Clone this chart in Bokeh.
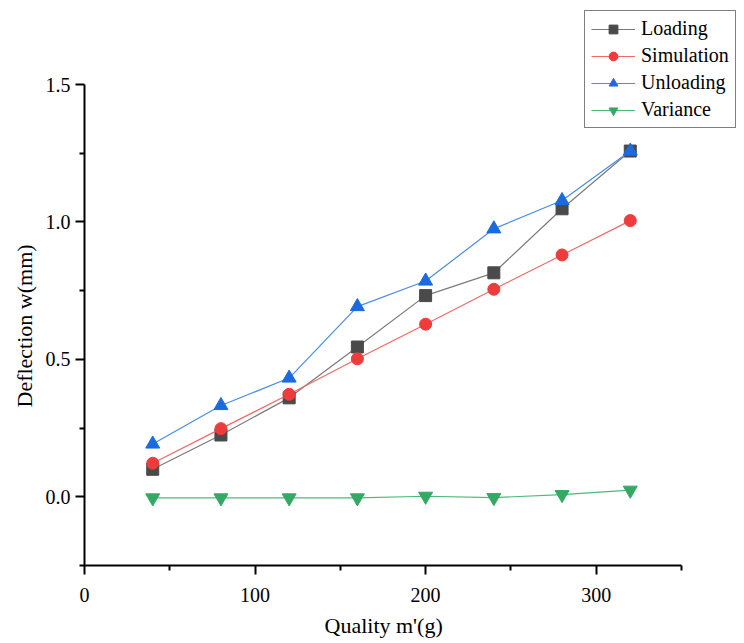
from bokeh.plotting import figure
from bokeh.models import FixedTicker, Legend, LegendItem, NumeralTickFormatter, Range1d, Title
from bokeh.embed import file_html
from bokeh.resources import INLINE

# Data
mass = [40, 80, 120, 160, 200, 240, 280, 320]
loading = [0.100, 0.225, 0.360, 0.545, 0.732, 0.815, 1.048, 1.258]
simulation = [0.122, 0.248, 0.373, 0.502, 0.628, 0.755, 0.880, 1.005]
unloading = [0.192, 0.332, 0.432, 0.692, 0.785, 0.975, 1.078, 1.258]
variance = [-0.004, -0.004, -0.004, -0.004, 0.002, -0.003, 0.008, 0.024]

x_major = [0, 100, 200, 300]
x_minor = [50, 150, 250, 350]
y_major = [0.0, 0.5, 1.0, 1.5]
y_minor = [-0.25, 0.25, 0.75, 1.25]
x_axis_bounds = (0, 350)
y_axis_bounds = (-0.25, 1.5)
x_label = "Quality m'(g)"
y_label = "Deflection w(mm)"

FONT = "Liberation Serif"

# frame extends past the drawn axes so the legend (top right) is not clipped
X_END = 385.8
Y_END = 1.784

p = figure(width=744, height=643, output_backend="svg", toolbar_location=None,
           x_range=Range1d(0, X_END), y_range=Range1d(-0.25, Y_END),
           min_border_left=84, min_border_top=6, min_border_right=2, min_border_bottom=78)
p.outline_line_color = None
p.xgrid.visible = False
p.ygrid.visible = False
p.background_fill_color = "white"

series = [
    ("Loading", loading, "#7a7a7a", "#4a4a4a", "square", 12),
    ("Simulation", simulation, "#f06a6a", "#ee3b3b", "circle", 12),
    ("Unloading", unloading, "#4a8de8", "#1a6be0", "triangle", 14),
    ("Variance", variance, "#4cbb7a", "#35a866", "inverted_triangle", 14),
]
items = []
for name, ys, lc, mc, marker, size in series:
    r1 = p.line(mass, ys, line_color=lc, line_width=1.2)
    r2 = p.scatter(mass, ys, marker=marker, size=size, fill_color=mc, line_color=mc)
    items.append(LegendItem(label=name, renderers=[r1, r2]))

legend = Legend(items=items, location=(500, 437))
legend.label_text_font = FONT
legend.label_text_font_size = "20px"
legend.label_text_color = "black"
legend.label_height = 22
legend.glyph_height = 22
legend.glyph_width = 44
legend.label_standoff = 6
legend.spacing = 4
legend.padding = 6
legend.margin = 0
legend.border_line_color = "black"
legend.border_line_width = 1
legend.background_fill_alpha = 1
p.add_layout(legend)

for ax in (p.xaxis[0], p.yaxis[0]):
    ax.axis_line_width = 2
    ax.axis_line_color = "black"
    ax.major_tick_line_width = 2
    ax.minor_tick_line_width = 2
    ax.major_tick_line_color = "black"
    ax.minor_tick_line_color = "black"
    ax.major_tick_out = 9
    ax.major_tick_in = 0
    ax.minor_tick_out = 5
    ax.minor_tick_in = 0
    ax.major_label_text_font = FONT
    ax.major_label_text_font_size = "20px"
    ax.major_label_text_color = "black"

p.xaxis[0].bounds = x_axis_bounds
p.yaxis[0].bounds = y_axis_bounds
p.xaxis[0].ticker = FixedTicker(ticks=x_major, minor_ticks=x_minor)
p.yaxis[0].ticker = FixedTicker(ticks=y_major, minor_ticks=y_minor)
p.yaxis[0].formatter = NumeralTickFormatter(format="0.0")
p.xaxis[0].major_label_standoff = 13
p.yaxis[0].major_label_standoff = 5

# axis titles placed as panel titles so they centre on the drawn axes
xt = Title(text=x_label, align="left", offset=240, text_font=FONT, text_font_size="22px",
           text_font_style="normal", text_color="black", standoff=12)
yt = Title(text=y_label, align="left", offset=158, text_font=FONT, text_font_size="22px",
           text_font_style="normal", text_color="black", standoff=12)
p.add_layout(xt, "below")
p.add_layout(yt, "left")

open("out.html", "w").write(file_html(p, INLINE))
